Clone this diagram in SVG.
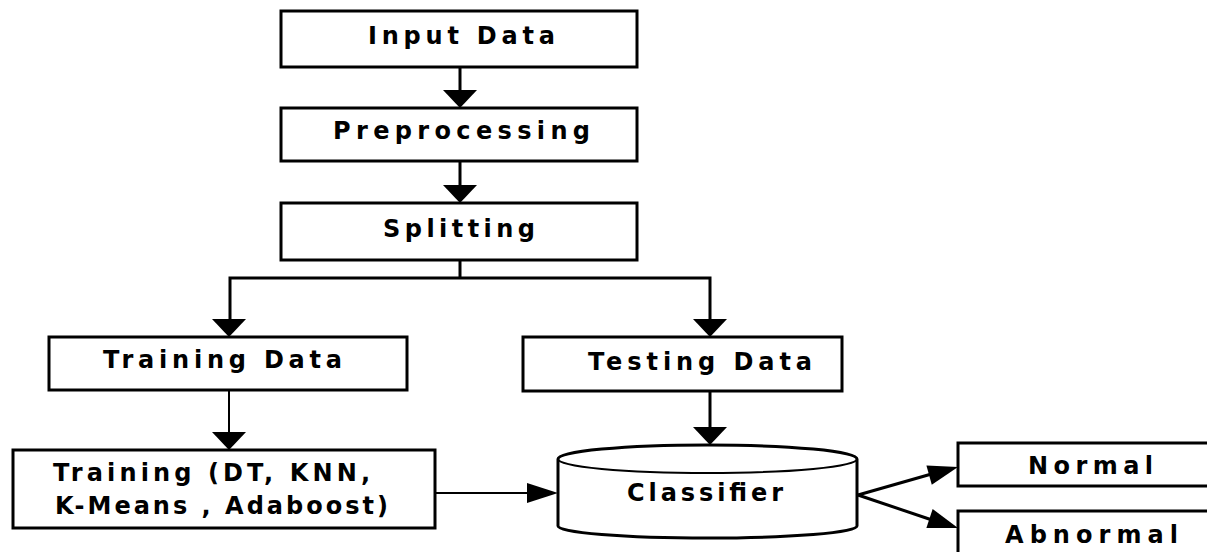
<svg xmlns="http://www.w3.org/2000/svg" width="1207" height="552" viewBox="0 0 1207 552">
<style>
.box{fill:#fff;stroke:#000;stroke-width:3}
.t{font-family:"DejaVu Sans","Liberation Sans",sans-serif;font-size:24px;font-weight:bold;fill:#000;text-anchor:start}
.ln{stroke:#000;stroke-width:3;fill:none}
.thin{stroke:#000;stroke-width:2;fill:none}
.ah{fill:#000}
</style>
<defs>
<path id="ahv" class="ah" d="M-17,-18 L17,-18 L0,0 Z"/>
<path id="ahr" class="ah" d="M-31,-10 L-31,10 L0,0 Z"/>
<path id="ahs" class="ah" d="M-30,-10 L-30,10 L0,0 Z"/>
</defs>
<rect width="1207" height="552" fill="#fff"/>
<g id="connectors">
<line class="ln" x1="460" y1="67" x2="460" y2="95"/>
<use href="#ahv" x="460" y="108"/>
<line class="ln" x1="460" y1="161" x2="460" y2="190"/>
<use href="#ahv" x="460" y="203"/>
<polyline class="ln" points="460,260 460,278"/>
<polyline class="ln" points="230,322 230,278 710,278 710,322"/>
<use href="#ahv" x="229" y="337"/>
<use href="#ahv" x="710" y="337"/>
<line class="thin" x1="229" y1="390" x2="229" y2="436"/>
<use href="#ahv" x="229" y="450"/>
<line class="ln" x1="710" y1="391" x2="710" y2="430"/>
<use href="#ahv" x="710" y="445"/>
<line class="thin" x1="435" y1="493" x2="530" y2="493"/>
<use href="#ahr" x="558" y="493"/>
<line class="ln" x1="858" y1="495" x2="935" y2="473"/>
<use href="#ahs" transform="translate(958,467) rotate(-15.6)"/>
<line class="ln" x1="858" y1="495" x2="935" y2="521"/>
<use href="#ahs" transform="translate(958,528) rotate(18.3)"/>
</g>
<g id="input-data">
<rect class="box" x="281" y="11" width="356" height="56"/>
<text class="t" x="368" y="44" textLength="187" lengthAdjust="spacing">Input Data</text>
</g>
<g id="preprocessing">
<rect class="box" x="281" y="108" width="356" height="53"/>
<text class="t" x="333" y="139" textLength="257" lengthAdjust="spacing">Preprocessing</text>
</g>
<g id="splitting">
<rect class="box" x="281" y="203" width="356" height="57"/>
<text class="t" x="383" y="237" textLength="152" lengthAdjust="spacing">Splitting</text>
</g>
<g id="training-data">
<rect class="box" x="49" y="337" width="358" height="53"/>
<text class="t" x="103" y="368" textLength="239" lengthAdjust="spacing">Training Data</text>
</g>
<g id="testing-data">
<rect class="box" x="523" y="337" width="319" height="54"/>
<text class="t" x="588" y="370" textLength="224" lengthAdjust="spacing">Testing Data</text>
</g>
<g id="training">
<rect class="box" x="13" y="450" width="422" height="78"/>
<text class="t" x="53" y="481" textLength="317" lengthAdjust="spacing">Training (DT, KNN,</text>
<text class="t" x="55" y="514" textLength="333" lengthAdjust="spacing">K-Means , Adaboost)</text>
</g>
<g id="classifier">
<path class="box" d="M558,459 A149.5,14 0 0 1 857,459 L857,526 A149.5,12 0 0 1 558,526 Z"/>
<path class="thin" d="M558,459 A149.5,14 0 0 0 857,459"/>
<text class="t" x="627" y="501" textLength="156" lengthAdjust="spacing">Classifier</text>
</g>
<g id="normal">
<rect class="box" x="958" y="443" width="260" height="43"/>
<text class="t" x="1028" y="474" textLength="125" lengthAdjust="spacing">Normal</text>
</g>
<g id="abnormal">
<rect class="box" x="958" y="511" width="260" height="60"/>
<text class="t" x="1005" y="543" textLength="173" lengthAdjust="spacing">Abnormal</text>
</g>
</svg>
